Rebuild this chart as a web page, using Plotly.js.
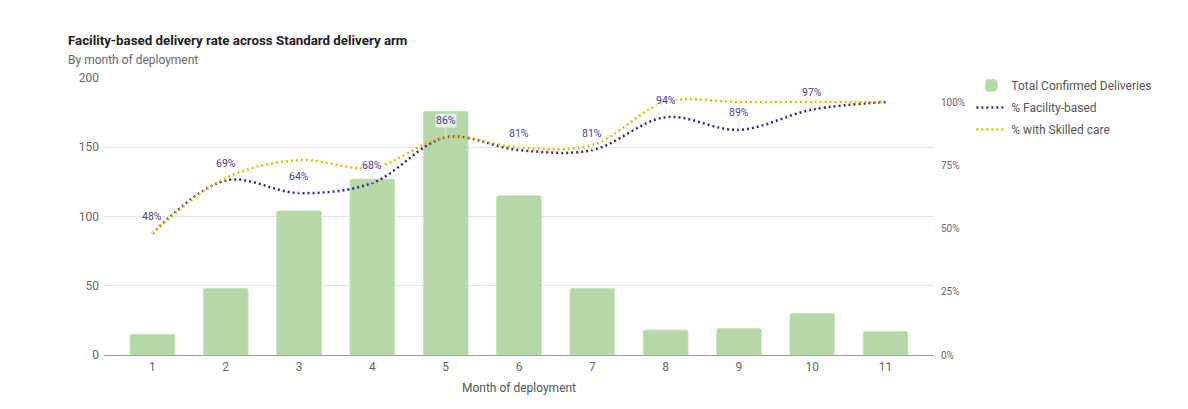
<!DOCTYPE html>
<html>
<head>
<meta charset="utf-8">
<script src="https://cdn.plot.ly/plotly-3.0.1.min.js"></script>
<style>html,body{margin:0;padding:0;background:#fff;}#chart{width:1188px;height:409px;}</style>
</head>
<body>
<div id="chart"></div>
<script>
var months = [1, 2, 3, 4, 5, 6, 7, 8, 9, 10, 11];
var totalDeliveries = [15, 48, 104, 127, 176, 115, 48, 18, 19, 30, 17];
var pctFacility = [0.48, 0.69, 0.64, 0.68, 0.86, 0.81, 0.81, 0.94, 0.89, 0.97, 1.00];
var pctSkilled = [0.48, 0.70, 0.77, 0.74, 0.86, 0.82, 0.83, 1.00, 1.00, 1.00, 1.00];
var facilityLabels = ['48%', '69%', '64%', '68%', '86%', '81%', '81%', '94%', '89%', '97%', ''];
var leftTicks = [0, 50, 100, 150, 200];
var rightTicks = [0, 0.25, 0.5, 0.75, 1];
var rightTickText = ['0%', '25%', '50%', '75%', '100%'];

var FONT = 'Roboto, "Noto Sans", Arial, sans-serif';

var traces = [
  {
    type: 'bar', name: 'Total Confirmed Deliveries',
    x: months, y: totalDeliveries, width: 0.61,
    marker: {color: '#b6d7a8', line: {color: '#c8e2bc', width: 1}},
    legendgroup: 'a', hoverinfo: 'none'
  },
  {
    type: 'scatter', mode: 'lines', name: '% Facility-based',
    x: months, y: pctFacility, yaxis: 'y2',
    line: {color: '#352a8c', width: 2.5, shape: 'spline', smoothing: 1, dash: '2px,3px'},
    legendgroup: 'b', hoverinfo: 'none'
  },
  {
    type: 'scatter', mode: 'lines', name: '% with Skilled care',
    x: months, y: pctSkilled, yaxis: 'y2',
    line: {color: '#f4b400', width: 2.5, shape: 'spline', smoothing: 1, dash: '2px,3px'},
    legendgroup: 'c', hoverinfo: 'none'
  }
];

var annotations = [];
for (var i = 0; i < months.length; i++) {
  if (!facilityLabels[i]) continue;
  annotations.push({
    x: months[i], y: pctFacility[i], xref: 'x', yref: 'y2',
    text: facilityLabels[i], showarrow: true, arrowhead: 0, arrowwidth: 1,
    arrowcolor: '#e6e6e6', ax: 0, ay: -17, standoff: 0,
    font: {family: FONT, size: 10.5, color: '#4a3d98'},
    bgcolor: 'rgba(255,255,255,0.6)', borderpad: 0
  });
}
annotations.push({
  xref: 'paper', yref: 'paper', x: -0.0458, y: 1.065, xanchor: 'left', yanchor: 'middle',
  text: 'By month of deployment', showarrow: false,
  font: {family: FONT, size: 12, color: '#666666'}
});

var layout = {
  width: 1188, height: 409,
  margin: {l: 104, r: 254, t: 78, b: 54},
  paper_bgcolor: '#ffffff', plot_bgcolor: '#ffffff',
  font: {family: FONT, color: '#666666'},
  title: {
    text: 'Facility-based delivery rate across Standard delivery arm',
    xref: 'container', yref: 'container', x: 68 / 1188, xanchor: 'left',
    y: 1 - 40 / 409, yanchor: 'middle',
    font: {family: FONT, size: 13.3, color: '#222222', weight: 'bold'}
  },
  xaxis: {
    range: [0.34, 11.66], tickvals: months, ticktext: months.map(String),
    showgrid: false, zeroline: false, showline: false, ticks: '',
    tickfont: {family: FONT, size: 12, color: '#666666'}, ticklabelstandoff: 3,
    title: {text: 'Month of deployment', font: {family: FONT, size: 12, color: '#555555'}, standoff: 10}
  },
  yaxis: {
    range: [0, 200], tickvals: leftTicks, showgrid: true, gridcolor: '#e5e5e5', gridwidth: 1,
    zeroline: true, zerolinecolor: '#9e9e9e', zerolinewidth: 1, showline: false, ticks: '',
    tickfont: {family: FONT, size: 12, color: '#666666'}, ticklabelstandoff: 4
  },
  yaxis2: {
    overlaying: 'y', side: 'right', range: [0, 1.095],
    tickvals: rightTicks, ticktext: rightTickText,
    showgrid: false, zeroline: false, showline: false, ticks: '',
    tickfont: {family: FONT, size: 10, color: '#666666'}, ticklabelstandoff: 6
  },
  barcornerradius: 2,
  showlegend: true,
  legend: {
    x: 1.045, xanchor: 'left', y: 1.0256, yanchor: 'top',
    font: {family: FONT, size: 12, color: '#555555'},
    tracegroupgap: 3, bgcolor: 'rgba(0,0,0,0)', itemwidth: 30
  },
  annotations: annotations,
  hovermode: false
};

Plotly.newPlot('chart', traces, layout, {displayModeBar: false, staticPlot: true});
</script>
</body>
</html>
